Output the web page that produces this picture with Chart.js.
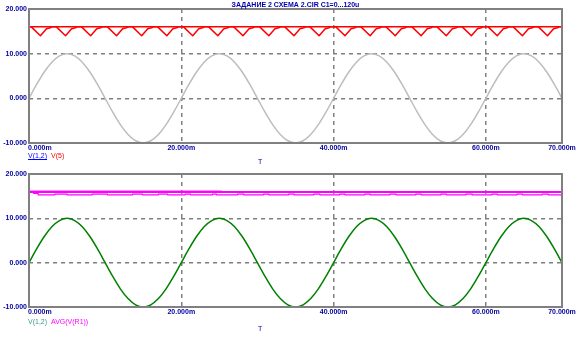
<!DOCTYPE html>
<html><head><meta charset="utf-8">
<script src="https://cdn.jsdelivr.net/npm/chart.js@4"></script>
<style>
html,body{margin:0;padding:0;background:#fff;width:581px;height:337px;overflow:hidden;position:relative;font-family:"Liberation Sans",Arial,sans-serif}
canvas{position:absolute;left:0}
.t{position:absolute;white-space:nowrap;line-height:1}
</style></head><body>
<canvas id="c1" width="581" height="168" style="top:0;width:581px;height:168px"></canvas>
<canvas id="c2" width="581" height="172" style="top:165px;width:581px;height:172px"></canvas>
<div class="t" style="left:0;width:591px;text-align:center;top:1px;font:bold 7px 'Liberation Sans';color:#0000b0">ЗАДАНИЕ 2 СХЕМА 2.CIR C1=0...120u</div>
<div class="t" style="left:28px;top:152px;font:7px 'Liberation Sans';color:#0000ff;text-decoration:underline">V(1,2)</div>
<div class="t" style="left:51px;top:152px;font:7px 'Liberation Sans';color:#ff0000">V(5)</div>
<div class="t" style="left:258px;top:158px;font:7px 'Liberation Sans';color:#0000b0">T</div>
<div class="t" style="left:28px;top:318px;font:7px 'Liberation Sans';color:#3a9a8a">V(1,2)</div>
<div class="t" style="left:51px;top:318px;font:7px 'Liberation Sans';color:#ff00ff">AVG(V(R1))</div>
<div class="t" style="left:258px;top:325px;font:7px 'Liberation Sans';color:#0000b0">T</div>
<script>
const xTickValues = [0, 20, 40, 60, 70];
const xTickLabels = ['0.000m', '20.000m', '40.000m', '60.000m', '70.000m'];
const yTickValues = [-10, 0, 10, 20];

const timeMs = [0,1,2,3,4,5,6,7,8,9,10,11,12,13,14,15,16,17,18,19,
  20,21,22,23,24,25,26,27,28,29,30,31,32,33,34,35,36,37,38,39,
  40,41,42,43,44,45,46,47,48,49,50,51,52,53,54,55,56,57,58,59,
  60,61,62,63,64,65,66,67,68,69,70];
const v12 = [0,3.1,5.9,8.1,9.5,10,9.5,8.1,5.9,3.1,0,-3.1,-5.9,-8.1,-9.5,-10,-9.5,-8.1,-5.9,-3.1,
  0,3.1,5.9,8.1,9.5,10,9.5,8.1,5.9,3.1,0,-3.1,-5.9,-8.1,-9.5,-10,-9.5,-8.1,-5.9,-3.1,
  0,3.1,5.9,8.1,9.5,10,9.5,8.1,5.9,3.1,0,-3.1,-5.9,-8.1,-9.5,-10,-9.5,-8.1,-5.9,-3.1,
  0,3.1,5.9,8.1,9.5,10,9.5,8.1,5.9,3.1,0];

const v5Time = [0,
  0.3,1.5,2.3,2.8,3.0, 3.6,4.8,5.6,6.1,6.3, 6.9,8.1,8.9,9.4,9.6, 10.3,11.5,12.3,12.8,13.0,
  13.6,14.8,15.6,16.1,16.3, 16.9,18.1,18.9,19.4,19.6, 20.3,21.5,22.3,22.8,23.0,
  23.6,24.8,25.6,26.1,26.3, 26.9,28.1,28.9,29.4,29.6, 30.3,31.5,32.3,32.8,33.0,
  33.6,34.8,35.6,36.1,36.3, 36.9,38.1,38.9,39.4,39.6, 40.3,41.5,42.3,42.8,43.0,
  43.6,44.8,45.6,46.1,46.3, 46.9,48.1,48.9,49.4,49.6, 50.3,51.5,52.3,52.8,53.0,
  53.6,54.8,55.6,56.1,56.3, 56.9,58.1,58.9,59.4,59.6, 60.3,61.5,62.3,62.8,63.0,
  63.6,64.8,65.6,66.1,66.3, 66.9,68.1,68.9,69.4,69.6, 70];
const v5Volts = [16,
  16,14,15.6,15.8,16, 16,14,15.6,15.8,16, 16,14,15.6,15.8,16, 16,14,15.6,15.8,16,
  16,14,15.6,15.8,16, 16,14,15.6,15.8,16, 16,14,15.6,15.8,16,
  16,14,15.6,15.8,16, 16,14,15.6,15.8,16, 16,14,15.6,15.8,16,
  16,14,15.6,15.8,16, 16,14,15.6,15.8,16, 16,14,15.6,15.8,16,
  16,14,15.6,15.8,16, 16,14,15.6,15.8,16, 16,14,15.6,15.8,16,
  16,14,15.6,15.8,16, 16,14,15.6,15.8,16, 16,14,15.6,15.8,16,
  16,14,15.6,15.8,16, 16,14,15.6,15.8,16, 16];
const v5PeakTime = [0, 70];
const v5PeakVolts = [16, 16];

const avgTime = [0, 0.6, 1.2, 3.4, 5.0, 8.3, 10.3, 13.6, 14.9, 17.0, 18.2, 20.5, 21.2, 24.1, 24.6,
  27.4, 28.2, 30.8, 31.5, 34.1, 34.8, 37.4, 38.2, 40.8, 41.5, 44.1, 44.8, 47.4, 48.2,
  50.8, 51.5, 54.1, 54.8, 57.4, 58.2, 60.8, 61.5, 64.1, 64.8, 67.4, 68.2, 70];
const avgVolts = [16, 15.65, 15.3, 15.45, 15.3, 15.45, 15.3, 15.45, 15.3, 15.45, 15.3, 15.45, 15.3, 15.45, 15.3,
  15.45, 15.3, 15.45, 15.3, 15.45, 15.3, 15.45, 15.3, 15.45, 15.3, 15.45, 15.3, 15.45, 15.3,
  15.45, 15.3, 15.45, 15.3, 15.45, 15.3, 15.45, 15.3, 15.45, 15.3, 15.45, 15.3, 15.3];
const avgUpperTime = [0, 70];
const avgUpperVolts = [15.95, 15.95];
const avgEarlyTime = [0, 25.3];
const avgEarlyVolts = [16.15, 16.15];

const pts = (xs, ys) => xs.map((x, i) => ({x: x, y: ys[i]}));
const AXIS_COLOR = '#0000a0';

const framePlugin = {
  id: 'frame',
  afterDraw(chart) {
    const ctx = chart.ctx, a = chart.chartArea, xs = chart.scales.x;
    ctx.save();
    ctx.strokeStyle = '#808080';
    ctx.lineWidth = 2;
    ctx.setLineDash([]);
    ctx.strokeRect(a.left, a.top, a.right - a.left, a.bottom - a.top);
    ctx.font = 'bold 7px "Liberation Sans", Arial, sans-serif';
    ctx.fillStyle = AXIS_COLOR;
    ctx.textBaseline = 'top';
    xTickValues.forEach((v, i) => {
      const px = xs.getPixelForValue(v);
      ctx.textAlign = i === 0 ? 'left' : 'center';
      ctx.fillText(xTickLabels[i], i === 0 ? px - 1 : px, a.bottom + chart.options.plugins.frame.labelGap);
    });
    ctx.restore();
  }
};

function makeOptions(padTop, padBottom, labelGap) {
  return {
    responsive: false,
    animation: false,
    devicePixelRatio: 1,
    layout: {padding: {top: padTop, bottom: padBottom, left: 0, right: 19}},
    plugins: {legend: {display: false}, tooltip: {enabled: false}, frame: {labelGap: labelGap}},
    elements: {point: {radius: 0}, line: {borderJoinStyle: 'round'}},
    scales: {
      x: {
        type: 'linear', min: 0, max: 70,
        afterBuildTicks: s => { s.ticks = xTickValues.map(v => ({value: v})); },
        afterFit: s => { s.height = 0; },
        ticks: {display: false},
        grid: {
          drawTicks: false,
          color: c => (c.tick && (c.tick.value === 0 || c.tick.value === 70)) ? 'rgba(0,0,0,0)' : '#808080',
          lineWidth: 1.5
        },
        border: {display: false, dash: [4, 4]}
      },
      y: {
        type: 'linear', min: -10, max: 20,
        afterBuildTicks: s => { s.ticks = yTickValues.map(v => ({value: v})); },
        afterFit: s => { s.width = 29; },
        ticks: {
          padding: 2,
          color: AXIS_COLOR,
          font: {family: '"Liberation Sans", Arial, sans-serif', size: 7, weight: 'bold'},
          callback: v => v.toFixed(3)
        },
        grid: {
          drawTicks: false,
          color: c => (c.tick && (c.tick.value === -10 || c.tick.value === 20)) ? 'rgba(0,0,0,0)' : '#808080',
          lineWidth: 1.5
        },
        border: {display: false, dash: [4, 4]}
      }
    }
  };
}

new Chart(document.getElementById('c1'), {
  type: 'line',
  data: {datasets: [
    {label: 'V(1,2)', data: pts(timeMs, v12), borderColor: '#bdbdbd', borderWidth: 1.5, cubicInterpolationMode: 'monotone'},
    {label: 'V(5)', data: pts(v5Time, v5Volts), borderColor: '#ff0000', borderWidth: 1.5, tension: 0},
    {label: 'V(5) top', data: pts(v5PeakTime, v5PeakVolts), borderColor: '#ff0000', borderWidth: 1.5}
  ]},
  options: makeOptions(9, 25, 1.5),
  plugins: [framePlugin]
});

new Chart(document.getElementById('c2'), {
  type: 'line',
  data: {datasets: [
    {label: 'V(1,2)', data: pts(timeMs, v12), borderColor: '#008000', borderWidth: 1.5, cubicInterpolationMode: 'monotone'},
    {label: 'AVG(V(R1))', data: pts(avgTime, avgVolts), borderColor: '#ff00ff', borderWidth: 1.2, stepped: true},
    {label: 'AVG upper', data: pts(avgUpperTime, avgUpperVolts), borderColor: '#ff00ff', borderWidth: 2},
    {label: 'AVG early', data: pts(avgEarlyTime, avgEarlyVolts), borderColor: '#ff00ff', borderWidth: 1}
  ]},
  options: makeOptions(9, 30, 2),
  plugins: [framePlugin]
});
</script>
</body></html>
